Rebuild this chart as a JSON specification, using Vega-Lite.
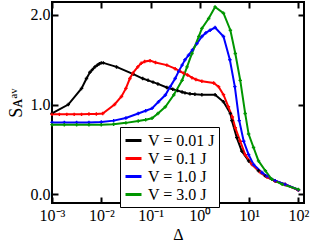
{
  "$schema": "https://vega.github.io/schema/vega-lite/v6.json",
  "autosize": {"type": "none"},
  "padding": {"left": 52, "top": 2, "right": 8, "bottom": 39},
  "width": 252,
  "height": 201,
  "background": "white",
  "config": {
    "view": {"stroke": "black", "strokeWidth": 2},
    "font": "Liberation Serif",
    "axis": {
      "grid": false, "domain": false, "tickColor": "black", "tickWidth": 2, "tickSize": -6,
      "labelFont": "Liberation Serif", "labelFontSize": 16, "labelColor": "black",
      "titleFont": "Liberation Serif", "titleFontWeight": "normal", "titleColor": "black"
    }
  },
  "datasets": {
    "pts": [
      {"d": 0.001, "s": 0.90, "V": "V = 0.01 J"},
      {"d": 0.00214, "s": 1.00, "V": "V = 0.01 J"},
      {"d": 0.00398, "s": 1.18, "V": "V = 0.01 J"},
      {"d": 0.00501, "s": 1.29, "V": "V = 0.01 J"},
      {"d": 0.00589, "s": 1.36, "V": "V = 0.01 J"},
      {"d": 0.0066, "s": 1.39, "V": "V = 0.01 J"},
      {"d": 0.00741, "s": 1.42, "V": "V = 0.01 J"},
      {"d": 0.00832, "s": 1.44, "V": "V = 0.01 J"},
      {"d": 0.00912, "s": 1.455, "V": "V = 0.01 J"},
      {"d": 0.01, "s": 1.465, "V": "V = 0.01 J"},
      {"d": 0.011, "s": 1.465, "V": "V = 0.01 J"},
      {"d": 0.0204, "s": 1.42, "V": "V = 0.01 J"},
      {"d": 0.0447, "s": 1.34, "V": "V = 0.01 J"},
      {"d": 0.0692, "s": 1.29, "V": "V = 0.01 J"},
      {"d": 0.089, "s": 1.27, "V": "V = 0.01 J"},
      {"d": 0.112, "s": 1.25, "V": "V = 0.01 J"},
      {"d": 0.141, "s": 1.23, "V": "V = 0.01 J"},
      {"d": 0.214, "s": 1.19, "V": "V = 0.01 J"},
      {"d": 0.282, "s": 1.17, "V": "V = 0.01 J"},
      {"d": 0.355, "s": 1.155, "V": "V = 0.01 J"},
      {"d": 0.437, "s": 1.14, "V": "V = 0.01 J"},
      {"d": 0.5, "s": 1.13, "V": "V = 0.01 J"},
      {"d": 0.631, "s": 1.12, "V": "V = 0.01 J"},
      {"d": 0.794, "s": 1.115, "V": "V = 0.01 J"},
      {"d": 1.1, "s": 1.11, "V": "V = 0.01 J"},
      {"d": 2.04, "s": 1.11, "V": "V = 0.01 J"},
      {"d": 3.02, "s": 1.03, "V": "V = 0.01 J"},
      {"d": 4.17, "s": 0.90, "V": "V = 0.01 J"},
      {"d": 4.47, "s": 0.82, "V": "V = 0.01 J"},
      {"d": 5.62, "s": 0.63, "V": "V = 0.01 J"},
      {"d": 7.08, "s": 0.48, "V": "V = 0.01 J"},
      {"d": 9.77, "s": 0.37, "V": "V = 0.01 J"},
      {"d": 15.5, "s": 0.26, "V": "V = 0.01 J"},
      {"d": 21.4, "s": 0.20, "V": "V = 0.01 J"},
      {"d": 33.9, "s": 0.145, "V": "V = 0.01 J"},
      {"d": 53.7, "s": 0.108, "V": "V = 0.01 J"},
      {"d": 100, "s": 0.045, "V": "V = 0.01 J"},

      {"d": 0.001, "s": 0.89, "V": "V = 0.1 J"},
      {"d": 0.00141, "s": 0.89, "V": "V = 0.1 J"},
      {"d": 0.002, "s": 0.89, "V": "V = 0.1 J"},
      {"d": 0.00282, "s": 0.89, "V": "V = 0.1 J"},
      {"d": 0.00398, "s": 0.89, "V": "V = 0.1 J"},
      {"d": 0.00562, "s": 0.895, "V": "V = 0.1 J"},
      {"d": 0.00794, "s": 0.895, "V": "V = 0.1 J"},
      {"d": 0.0107, "s": 0.90, "V": "V = 0.1 J"},
      {"d": 0.0186, "s": 1.00, "V": "V = 0.1 J"},
      {"d": 0.0257, "s": 1.09, "V": "V = 0.1 J"},
      {"d": 0.0316, "s": 1.18, "V": "V = 0.1 J"},
      {"d": 0.038, "s": 1.29, "V": "V = 0.1 J"},
      {"d": 0.0437, "s": 1.35, "V": "V = 0.1 J"},
      {"d": 0.055, "s": 1.42, "V": "V = 0.1 J"},
      {"d": 0.0646, "s": 1.46, "V": "V = 0.1 J"},
      {"d": 0.0759, "s": 1.48, "V": "V = 0.1 J"},
      {"d": 0.0977, "s": 1.49, "V": "V = 0.1 J"},
      {"d": 0.126, "s": 1.47, "V": "V = 0.1 J"},
      {"d": 0.214, "s": 1.44, "V": "V = 0.1 J"},
      {"d": 0.316, "s": 1.40, "V": "V = 0.1 J"},
      {"d": 0.398, "s": 1.37, "V": "V = 0.1 J"},
      {"d": 0.468, "s": 1.35, "V": "V = 0.1 J"},
      {"d": 0.562, "s": 1.33, "V": "V = 0.1 J"},
      {"d": 0.692, "s": 1.30, "V": "V = 0.1 J"},
      {"d": 0.832, "s": 1.28, "V": "V = 0.1 J"},
      {"d": 1.1, "s": 1.26, "V": "V = 0.1 J"},
      {"d": 1.91, "s": 1.24, "V": "V = 0.1 J"},
      {"d": 2.4, "s": 1.20, "V": "V = 0.1 J"},
      {"d": 3.02, "s": 1.11, "V": "V = 0.1 J"},
      {"d": 3.8, "s": 0.975, "V": "V = 0.1 J"},
      {"d": 4.57, "s": 0.86, "V": "V = 0.1 J"},
      {"d": 5.25, "s": 0.74, "V": "V = 0.1 J"},
      {"d": 6.61, "s": 0.59, "V": "V = 0.1 J"},
      {"d": 8.32, "s": 0.44, "V": "V = 0.1 J"},
      {"d": 11.5, "s": 0.33, "V": "V = 0.1 J"},
      {"d": 17.0, "s": 0.24, "V": "V = 0.1 J"},
      {"d": 22.9, "s": 0.19, "V": "V = 0.1 J"},
      {"d": 33.9, "s": 0.145, "V": "V = 0.1 J"},
      {"d": 53.7, "s": 0.106, "V": "V = 0.1 J"},
      {"d": 100, "s": 0.045, "V": "V = 0.1 J"},

      {"d": 0.001, "s": 0.80, "V": "V = 1.0 J"},
      {"d": 0.00178, "s": 0.80, "V": "V = 1.0 J"},
      {"d": 0.00316, "s": 0.80, "V": "V = 1.0 J"},
      {"d": 0.00562, "s": 0.80, "V": "V = 1.0 J"},
      {"d": 0.01, "s": 0.805, "V": "V = 1.0 J"},
      {"d": 0.0178, "s": 0.82, "V": "V = 1.0 J"},
      {"d": 0.0316, "s": 0.85, "V": "V = 1.0 J"},
      {"d": 0.0562, "s": 0.90, "V": "V = 1.0 J"},
      {"d": 0.0794, "s": 0.93, "V": "V = 1.0 J"},
      {"d": 0.107, "s": 0.957, "V": "V = 1.0 J"},
      {"d": 0.145, "s": 1.03, "V": "V = 1.0 J"},
      {"d": 0.2, "s": 1.106, "V": "V = 1.0 J"},
      {"d": 0.251, "s": 1.20, "V": "V = 1.0 J"},
      {"d": 0.316, "s": 1.29, "V": "V = 1.0 J"},
      {"d": 0.372, "s": 1.37, "V": "V = 1.0 J"},
      {"d": 0.437, "s": 1.44, "V": "V = 1.0 J"},
      {"d": 0.5, "s": 1.50, "V": "V = 1.0 J"},
      {"d": 0.589, "s": 1.55, "V": "V = 1.0 J"},
      {"d": 0.708, "s": 1.61, "V": "V = 1.0 J"},
      {"d": 0.871, "s": 1.68, "V": "V = 1.0 J"},
      {"d": 1.1, "s": 1.76, "V": "V = 1.0 J"},
      {"d": 1.32, "s": 1.80, "V": "V = 1.0 J"},
      {"d": 1.62, "s": 1.83, "V": "V = 1.0 J"},
      {"d": 2.04, "s": 1.86, "V": "V = 1.0 J"},
      {"d": 3.02, "s": 1.76, "V": "V = 1.0 J"},
      {"d": 4.07, "s": 1.50, "V": "V = 1.0 J"},
      {"d": 5.13, "s": 1.20, "V": "V = 1.0 J"},
      {"d": 6.31, "s": 0.82, "V": "V = 1.0 J"},
      {"d": 7.76, "s": 0.59, "V": "V = 1.0 J"},
      {"d": 9.77, "s": 0.44, "V": "V = 1.0 J"},
      {"d": 12.3, "s": 0.33, "V": "V = 1.0 J"},
      {"d": 18.2, "s": 0.24, "V": "V = 1.0 J"},
      {"d": 22.9, "s": 0.20, "V": "V = 1.0 J"},
      {"d": 33.9, "s": 0.15, "V": "V = 1.0 J"},
      {"d": 53.7, "s": 0.108, "V": "V = 1.0 J"},
      {"d": 100, "s": 0.048, "V": "V = 1.0 J"},

      {"d": 0.001, "s": 0.775, "V": "V = 3.0 J"},
      {"d": 0.00178, "s": 0.775, "V": "V = 3.0 J"},
      {"d": 0.00316, "s": 0.775, "V": "V = 3.0 J"},
      {"d": 0.00562, "s": 0.775, "V": "V = 3.0 J"},
      {"d": 0.01, "s": 0.775, "V": "V = 3.0 J"},
      {"d": 0.0178, "s": 0.78, "V": "V = 3.0 J"},
      {"d": 0.0316, "s": 0.795, "V": "V = 3.0 J"},
      {"d": 0.0562, "s": 0.815, "V": "V = 3.0 J"},
      {"d": 0.0794, "s": 0.83, "V": "V = 3.0 J"},
      {"d": 0.107, "s": 0.846, "V": "V = 3.0 J"},
      {"d": 0.141, "s": 0.90, "V": "V = 3.0 J"},
      {"d": 0.2, "s": 0.975, "V": "V = 3.0 J"},
      {"d": 0.295, "s": 1.106, "V": "V = 3.0 J"},
      {"d": 0.437, "s": 1.27, "V": "V = 3.0 J"},
      {"d": 0.55, "s": 1.42, "V": "V = 3.0 J"},
      {"d": 0.692, "s": 1.57, "V": "V = 3.0 J"},
      {"d": 0.955, "s": 1.76, "V": "V = 3.0 J"},
      {"d": 1.1, "s": 1.85, "V": "V = 3.0 J"},
      {"d": 1.51, "s": 1.96, "V": "V = 3.0 J"},
      {"d": 2.04, "s": 2.09, "V": "V = 3.0 J"},
      {"d": 3.02, "s": 2.02, "V": "V = 3.0 J"},
      {"d": 4.17, "s": 1.83, "V": "V = 3.0 J"},
      {"d": 5.25, "s": 1.57, "V": "V = 3.0 J"},
      {"d": 6.61, "s": 1.27, "V": "V = 3.0 J"},
      {"d": 8.32, "s": 0.90, "V": "V = 3.0 J"},
      {"d": 9.77, "s": 0.67, "V": "V = 3.0 J"},
      {"d": 12.3, "s": 0.52, "V": "V = 3.0 J"},
      {"d": 15.5, "s": 0.37, "V": "V = 3.0 J"},
      {"d": 21.4, "s": 0.26, "V": "V = 3.0 J"},
      {"d": 28.8, "s": 0.165, "V": "V = 3.0 J"},
      {"d": 46.8, "s": 0.108, "V": "V = 3.0 J"},
      {"d": 100, "s": 0.052, "V": "V = 3.0 J"}
    ]
  },
  "data": {"name": "pts"},
  "layer": [
    {
      "mark": {"type": "line", "strokeWidth": 2},
      "encoding": {
        "x": {
          "field": "d", "type": "quantitative",
          "scale": {"type": "log", "domain": [0.001, 130], "nice": false},
          "axis": {
            "orient": "bottom", "values": [0.001, 0.01, 0.1, 1, 10, 100],
            "labelExpr": "'10' + ['⁻³','⁻²','⁻¹','⁰','¹','²'][round(log(datum.value)/LN10) + 3]",
            "labelFlush": false, "labelOverlap": false, "labelPadding": 10,
            "title": "Δ", "titleFontSize": 16, "titlePadding": 3
          }
        },
        "y": {
          "field": "s", "type": "quantitative",
          "scale": {"domain": [-0.1, 2.145], "nice": false, "zero": false},
          "axis": {
            "orient": "left", "values": [0, 1, 2], "format": ".1f",
            "labelPadding": 8, "title": "Sᴀᵃᵛ", "titleFontSize": 18, "titlePadding": 5
          }
        },
        "color": {
          "field": "V", "type": "nominal",
          "scale": {"domain": ["V = 0.01 J", "V = 0.1 J", "V = 1.0 J", "V = 3.0 J"],
                    "range": ["#000000", "#ff0000", "#0000ff", "#009600"]},
          "legend": {
            "orient": "none", "legendX": 68, "legendY": 125, "title": null,
            "symbolType": "stroke", "symbolSize": 256, "symbolStrokeWidth": 3,
            "labelFont": "Liberation Serif", "labelFontSize": 16, "labelColor": "black",
            "labelOffset": 5, "rowPadding": 0, "padding": 4,
            "strokeColor": "black", "fillColor": "white"
          }
        }
      }
    },
    {
      "mark": {"type": "point", "shape": "cross", "filled": true, "size": 12, "opacity": 1},
      "encoding": {
        "x": {
          "field": "d", "type": "quantitative",
          "scale": {"type": "log", "domain": [0.001, 130], "nice": false},
          "axis": {"orient": "top", "values": [0.001, 0.01, 0.1, 1, 10, 100], "labels": false, "title": null}
        },
        "y": {
          "field": "s", "type": "quantitative",
          "scale": {"domain": [-0.1, 2.145], "nice": false, "zero": false},
          "axis": {"orient": "right", "values": [0, 1, 2], "labels": false, "title": null}
        },
        "color": {"field": "V", "type": "nominal", "legend": null}
      }
    }
  ],
  "resolve": {"axis": {"x": "independent", "y": "independent"}, "legend": {"color": "independent"}}
}
